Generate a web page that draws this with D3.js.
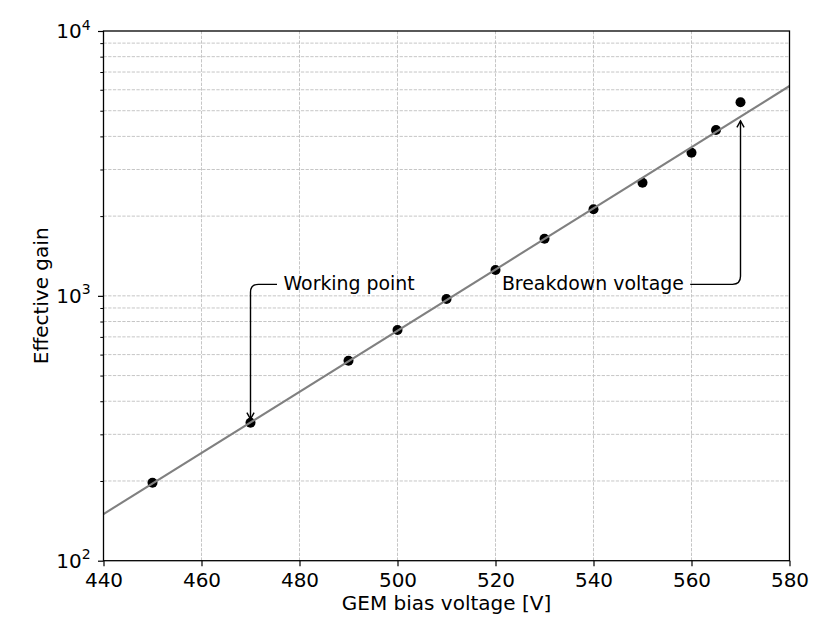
<!DOCTYPE html>
<html>
<head>
<meta charset="utf-8">
<script src="https://cdn.jsdelivr.net/npm/d3@7"></script>
<style>
  body { margin: 0; background: #fff; }
  svg { display: block; }
  text { font-family: "DejaVu Sans", sans-serif; fill: #000; }
</style>
</head>
<body>
<svg id="chart" width="830" height="623"></svg>
<script>
// ---- data ----
const voltages = [450, 470, 490, 500, 510, 520, 530, 540, 550, 560, 565, 570];
const gains    = [197, 332, 569, 743, 973, 1252, 1644, 2123, 2675, 3471, 4228, 5380];
const fitVoltages = [440, 580];
const fitGains    = [150, 6200];
const xTicks = [440, 460, 480, 500, 520, 540, 560, 580];
const yMajorTicks = [100, 1000, 10000];
const yTickExponents = ["2", "3", "4"];
const annotLabels = ["Working point", "Breakdown voltage"];
const annotVoltages = [470, 570];
const annotGains = [332, 4700];
const xLabel = "GEM bias voltage [V]";
const yLabel = "Effective gain";

// ---- layout ----
const W = 830, H = 623;
const m = { left: 103.5, right: 40.5, top: 31, bottom: 62.3 };
const iw = W - m.left - m.right, ih = H - m.top - m.bottom;
const fsTick = 20, fsLabel = 20, fsAnn = 18.9;

const svg = d3.select("#chart");
const g = svg.append("g").attr("transform", `translate(${m.left},${m.top})`);

const x = d3.scaleLinear().domain([440, 580]).range([0, iw]);
const y = d3.scaleLog().domain([100, 10000]).range([ih, 0]);

const yMinor = [];
for (let d = 100; d < 10000; d *= 10)
  for (let k = 2; k <= 9; k++) yMinor.push(k * d);

// grid
const gridStyle = sel => sel.attr("stroke", "#c6c6c6").attr("stroke-width", 1)
  .attr("stroke-dasharray", "3.3,1.4").attr("fill", "none");
g.append("g").selectAll("line").data(xTicks.slice(1, -1)).join("line")
  .attr("x1", d => x(d)).attr("x2", d => x(d)).attr("y1", 0).attr("y2", ih)
  .call(gridStyle);
g.append("g").selectAll("line").data(yMinor.concat([1000])).join("line")
  .attr("x1", 0).attr("x2", iw).attr("y1", d => y(d)).attr("y2", d => y(d))
  .call(gridStyle);

// points
g.append("g").selectAll("circle").data(voltages).join("circle")
  .attr("cx", d => x(d)).attr("cy", (d, i) => y(gains[i])).attr("r", 5)
  .attr("fill", "#000");

// fit line
const line = d3.line().x(d => x(d[0])).y(d => y(d[1]));
g.append("path").datum(fitVoltages.map((v, i) => [v, fitGains[i]]))
  .attr("d", line).attr("fill", "none").attr("stroke", "#808080").attr("stroke-width", 2.1);

// axes
const xAxis = g.append("g").attr("transform", `translate(0,${ih})`)
  .call(d3.axisBottom(x).tickValues(xTicks).tickSize(5.5).tickPadding(6.3).tickFormat(d3.format("d")));
xAxis.select(".domain").remove();
xAxis.selectAll("text").attr("font-size", fsTick).attr("font-family", "DejaVu Sans");
xAxis.selectAll("line").attr("stroke-width", 1.2);

const yAxis = g.append("g")
  .call(d3.axisLeft(y).tickValues(yMajorTicks).tickSize(5.5).tickPadding(7.3).tickFormat(() => ""));
yAxis.select(".domain").remove();
yAxis.selectAll("line").attr("stroke-width", 1.2);
yAxis.selectAll(".tick text").each(function(d, i) {
  const t = d3.select(this).attr("font-size", fsTick).attr("font-family", "DejaVu Sans").attr("dy", "0.34em");
  t.append("tspan").text("10");
  t.append("tspan").attr("font-size", fsTick * 0.7).attr("dy", "-0.62em").text(yTickExponents[i]);
});

const yMinorAxis = g.append("g")
  .call(d3.axisLeft(y).tickValues(yMinor).tickSize(3.2).tickFormat(() => ""));
yMinorAxis.select(".domain").remove();
yMinorAxis.selectAll("line").attr("stroke-width", 1);

// spines
g.append("rect").attr("x", 0).attr("y", 0).attr("width", iw).attr("height", ih)
  .attr("fill", "none").attr("stroke", "#000").attr("stroke-width", 1.3);

// axis labels
g.append("text").attr("x", iw / 2).attr("y", ih + 49.3).attr("text-anchor", "middle")
  .attr("font-size", fsLabel).text(xLabel);
g.append("text").attr("transform", `translate(${-55.5},${ih / 2}) rotate(-90)`)
  .attr("text-anchor", "middle").attr("font-size", fsLabel).text(yLabel);

// annotations
const r = 8;
const textBase = y(1000) - 6;
const lineY = textBase - 5.5;
function arrowHead(tx, ty, dir) {
  return `M${tx - 3.6},${ty - dir * 6.5}L${tx},${ty}L${tx + 3.6},${ty - dir * 6.5}`;
}
// Working point
{
  const ax = x(annotVoltages[0]);
  const tipY = y(annotGains[0]) - 3.5;
  const tx = ax + 33;
  g.append("text").attr("x", tx).attr("y", textBase).attr("font-size", fsAnn).text(annotLabels[0]);
  const p = d3.path();
  p.moveTo(tx - 6.5, lineY);
  p.lineTo(ax + r, lineY);
  p.quadraticCurveTo(ax, lineY, ax, lineY + r);
  p.lineTo(ax, tipY);
  g.append("path").attr("d", p.toString()).attr("fill", "none").attr("stroke", "#000").attr("stroke-width", 1.4);
  g.append("path").attr("d", arrowHead(ax, tipY, 1)).attr("fill", "none").attr("stroke", "#000").attr("stroke-width", 1.4);
}
// Breakdown voltage
{
  const ax = x(annotVoltages[1]);
  const tipY = y(annotGains[1]) + 3;
  const tx = ax - 56.6;
  g.append("text").attr("x", tx).attr("y", textBase).attr("text-anchor", "end").attr("font-size", fsAnn).text(annotLabels[1]);
  const p = d3.path();
  p.moveTo(tx + 6.3, lineY);
  p.lineTo(ax - r, lineY);
  p.quadraticCurveTo(ax, lineY, ax, lineY - r);
  p.lineTo(ax, tipY);
  g.append("path").attr("d", p.toString()).attr("fill", "none").attr("stroke", "#000").attr("stroke-width", 1.4);
  g.append("path").attr("d", arrowHead(ax, tipY, -1)).attr("fill", "none").attr("stroke", "#000").attr("stroke-width", 1.4);
}
</script>
</body>
</html>
